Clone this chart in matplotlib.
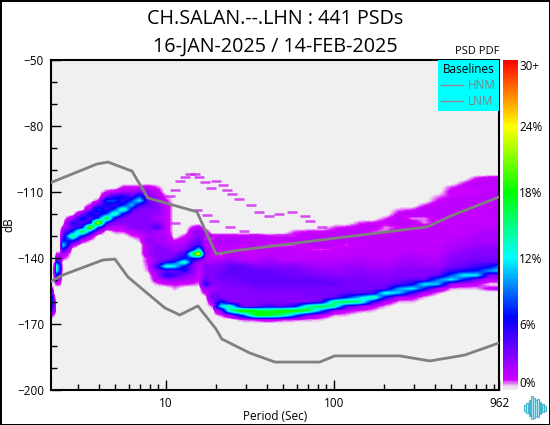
import numpy as np
import matplotlib
matplotlib.use("Agg")
import matplotlib.pyplot as plt
from matplotlib.colors import LinearSegmentedColormap, Normalize
from matplotlib.cm import ScalarMappable
from matplotlib.ticker import FixedLocator, FixedFormatter, NullFormatter

plt.rcParams["font.family"] = ["Open Sans", "DejaVu Sans"]

title_lines = "CH.SALAN.--.LHN : 441 PSDs\n16-JAN-2025 / 14-FEB-2025"

hnm_period = [2.04, 3.88, 4.52, 6.28, 7.81, 15.3, 19.9, 27.6, 104, 358, 511, 962]
hnm_db = [-105.9, -97.3, -96.4, -100.5, -112.7, -119, -138.2, -136.4, -130.9, -125.9, -120.5, -112.3]

lnm_period = [2.04, 2.44, 4.22, 4.97, 5.94, 7.71, 9.86, 12.1, 15.5, 19.9, 21.5, 31.6, 44.6, 82.5, 101, 247, 373, 603, 962]
lnm_db = [-150.9, -147.7, -140.9, -140.5, -148.6, -155.9, -162.7, -165.9, -161.8, -172.3, -176.8, -183.2, -187.3, -187.3, -184.5, -184.5, -186.8, -184.1, -178.6]

# rare PSDs, seen as short dashes above the main body
rare_period = [10.6, 11.3, 12.1, 13.0, 13.9, 14.9, 15.8, 17.0, 18.5, 20.0, 21.8, 23.0, 24.7, 27.3, 31.9, 36.0, 41.0, 47.0, 56.0, 67.0, 72.0, 85.0,
               15.3, 17.5, 19.3, 24.0, 29.0, 47.0, 55.0, 11.4, 18.0]
rare_db = [-112, -109, -105, -103, -102, -102, -103, -105.5, -108, -105, -107, -109, -111, -113, -116, -119, -121, -120, -119, -121, -123, -126,
           -118, -120.5, -123, -126, -127.7, -129.5, -129.5, -124, -131]

# PDF table: one list per period column, first value at col_top dB, then every 2 dB down (percent)
col_period = [2.07, 2.13, 2.19, 2.24, 2.34, 2.44, 2.79, 3.16, 3.53, 3.99, 4.46, 4.97, 5.55, 6.28, 7.0, 7.81, 8.84,
              10, 11.3, 13, 14.5, 15.7, 17.1, 18.8, 21.5, 24, 28.7, 34.3, 41, 49, 58.6, 70, 83.8, 100, 119, 143, 171,
              204, 244, 291, 348, 416, 497, 594, 710, 849, 962]
col_top = [-154, -154, -142, -138, -138, -126, -122, -120, -116, -114, -110, -110, -108, -108, -108, -108, -108,
           -112, -132, -130, -126, -126, -128, -130, -130, -130, -130, -130, -130, -130, -128, -128, -128, -126, -126, -124, -124,
           -122, -118, -118, -116, -112, -108, -106, -104, -104, -104]
col_vals = [
    [1, 4, 8, 11, 8, 4, 1],
    [1, 3, 6, 8, 5, 3, 1],
    [1, 2, 3, 2, 1, 0.5, 0, 0, 1, 2, 3, 2, 0.5],
    [1, 3, 7, 14, 12, 6, 3, 1],
    [1, 3, 5, 8, 8, 5, 2, 1],
    [1, 3, 4, 7, 12, 6, 2, 1],
    [2, 6, 4, 8, 16, 7, 1.5],
    [3, 7, 4, 6, 18, 6, 1.5],
    [1, 3, 7, 4, 6, 22, 8, 2, 0.5],
    [1, 4, 8, 5, 8, 24, 7, 2],
    [1, 3, 8, 6, 5, 8, 18, 5, 2],
    [1.5, 5, 8, 5, 8, 15, 5, 3, 1.5, 0.8],
    [1, 2, 6, 5, 7, 15, 6, 3, 3, 1.5, 0.8],
    [1, 2, 4, 8, 11, 5, 3, 3, 3, 3, 1.5, 0.8],
    [1, 3, 8, 12, 5, 3, 3, 3, 3, 3, 2, 1, 0.6],
    [1.5, 2.5, 3, 4, 4, 3, 3, 3, 3, 3, 3, 2, 3, 2, 2, 2, 1, 1, 0.8, 0.6],
    [0.8, 1.5, 2, 2.5, 3, 3, 2.5, 2, 3, 5, 2, 2, 2, 3, 3, 3, 3, 3, 5, 3, 2, 1.5, 0.6],
    [0.6, 1, 1.5, 1.5, 1.5, 1.5, 1.5, 1.5, 1.5, 2, 2, 2, 3, 3, 3, 6, 13, 4, 6, 2.5, 1],
    [1, 2, 2, 3, 4, 8, 12, 4, 5, 2.5, 1, 0.6],
    [1, 1.5, 2, 3, 5, 7, 15, 6, 6, 3, 2, 1],
    [1, 2, 2, 3, 4, 6, 17, 7, 4, 3, 3, 2.5, 1.5, 0.8],
    [1.5, 3, 3, 4, 5, 12, 26, 6, 2, 1.5, 1.5, 1, 1, 0.6],
    [1.5, 1.5, 2, 1.5, 2, 3, 2, 2, 3, 3, 3, 4, 6, 2.5, 1.2],
    [1.5, 1.5, 1.5, 1.5, 1, 1.5, 2, 3, 3, 3, 3, 3, 2, 3, 4, 2, 0.8],
    [1.5, 2, 1.5, 1.5, 0.6, 1.5, 2.5, 3, 3.5, 4, 3.5, 3, 3, 3, 3, 7, 12, 3, 0.8],
    [1.5, 2, 1.5, 1.5, 1.5, 2, 3, 4, 4, 4, 3.5, 3.5, 3, 3, 3, 3, 14, 14, 2],
    [1.2, 1.5, 1.5, 0.8, 1.5, 1.5, 2.5, 4, 4, 4, 4, 3.5, 3, 3, 3, 3, 3, 20, 8, 0.8],
    [1.5, 1.5, 1.5, 1.5, 1.2, 1.5, 2, 3, 4, 4, 4, 4, 3.5, 3, 3, 3, 3.5, 18, 18, 1],
    [1, 1.5, 0.8, 1.5, 1.5, 2, 2.5, 3, 4, 4, 4, 4, 3.5, 3, 3, 3, 5, 17, 18, 1.5],
    [1, 1.5, 0.6, 1.5, 1.5, 1.5, 2, 3, 3.5, 4, 4, 4, 3.5, 3, 3, 3, 4, 19, 15, 1],
    [0.8, 1.2, 1.5, 0.8, 1.5, 1.5, 1.5, 2, 3, 3.5, 3.5, 4, 4, 3.5, 3, 3, 3, 6, 19, 9, 0.8],
    [1, 1.5, 1.5, 1.5, 1, 1.5, 1.5, 2, 2.5, 3, 3.5, 4, 4, 3.5, 3.5, 3, 3, 14, 17, 3, 0.6],
    [1, 1.5, 1.5, 1.5, 0.8, 1.5, 1.5, 2, 2, 3, 3, 4, 4, 3.5, 3.5, 3, 4.5, 17, 9, 1.5, 0.5],
    [0.8, 1.2, 1.5, 1.5, 1.5, 1, 1.5, 1.5, 2, 2, 2.5, 3, 3.5, 4, 3.5, 3.5, 4, 15, 15, 2, 0.6],
    [1, 1.5, 1.5, 1.5, 0.8, 1.5, 1.5, 1.5, 2, 2.5, 2.5, 3, 3.5, 3.5, 3.5, 4, 7, 17, 5, 1.2, 0.5],
    [0.8, 1.2, 1.5, 1.5, 1.5, 1.2, 1.5, 1.5, 2, 2, 2.5, 3, 3, 3.5, 3.5, 3.5, 4, 11, 15, 2.5, 0.8],
    [1, 1.5, 0.8, 1.5, 1.5, 1.5, 1.5, 1.5, 1.5, 2, 2, 2.5, 3, 3, 3.5, 3.5, 5, 15, 5, 1.2, 0.5],
    [0.8, 1.2, 0.6, 0.6, 1.5, 1.5, 1.5, 1.5, 1.5, 1.5, 2, 2, 2.5, 3, 3, 3.5, 4, 13, 6, 1.5, 0.5],
    [0.6, 1.2, 1.5, 1.5, 1, 1.5, 1.5, 1.5, 1.5, 1.5, 1.5, 2, 2, 2.5, 3, 3, 3.5, 4.5, 10, 11, 1.5, 0.5],
    [0.8, 1.5, 0.6, 1.5, 1.5, 1.5, 1.5, 1.5, 1.5, 1.5, 2, 2, 2.5, 2.5, 3, 3, 4, 6, 12, 5, 1.2, 0.5],
    [0.8, 1.5, 1.5, 0.6, 0.6, 1.5, 1.5, 1.5, 1.5, 1.5, 1.5, 1.5, 2, 2, 2.5, 3, 3, 4, 12, 7, 1.5, 0.5],
    [0.6, 1, 1.5, 1.5, 1.5, 1.5, 1.2, 1.5, 1.5, 1.5, 1.2, 1.5, 1.5, 1.5, 2, 2, 2.5, 3, 4, 9, 11, 2, 0.6],
    [0.8, 1.2, 1, 1.5, 1.5, 1.5, 1.5, 1.5, 1.2, 1.5, 1.2, 1.5, 1.5, 2, 2, 2.5, 3, 3, 3.5, 5, 8, 12, 2, 0.6],
    [0.8, 1.2, 1, 1.2, 1.5, 1.5, 1.5, 1.5, 1.5, 1.2, 1.5, 1.5, 1.5, 2, 2, 2.5, 3, 3, 3.5, 4, 6, 12, 7, 1.5, 0.5],
    [1, 1.5, 1.5, 1, 1.5, 1.5, 1.5, 1.5, 1, 1.5, 1.2, 1.5, 1.5, 2, 2, 2.5, 3, 3, 3.5, 4, 5, 7, 12, 3, 1.2, 0.5],
    [1.5, 1.5, 1.2, 1.5, 1.5, 1.5, 1.2, 1.5, 1.5, 1.2, 1.5, 1.5, 2, 2, 2, 2.5, 3, 3, 3.5, 4, 6, 10, 3, 1.5, 0.3, 1.2],
    [1.5, 1.5, 1.2, 1.5, 1.5, 1.5, 1.2, 1.5, 1.5, 1.2, 1.5, 1.5, 2, 2, 2, 2.5, 3, 3, 3.5, 4, 9, 11, 3, 1.5, 0.3, 1.2],
]

logo_heights = [6, 10, 15, 23, 20, 16, 18, 12, 8, 5]

# table -> grid
db_rows = np.arange(-176, -98, 2)
pdf = np.zeros((len(db_rows), len(col_period)))
for j, vals in enumerate(col_vals):
    for k, v in enumerate(vals):
        i = np.where(db_rows == col_top[j] - 2 * k)[0][0]
        pdf[i, j] = v

# smooth the cells for drawing (the original image is resampled the same way)
log_p = np.log10(col_period)
fine_x = np.linspace(log_p[0], log_p[-1], 460)
fine_y = np.linspace(db_rows[0], db_rows[-1], 170)
tmp = np.array([np.interp(fine_x, log_p, row) for row in pdf])
fine = np.array([np.interp(fine_y, db_rows, tmp[:, j]) for j in range(tmp.shape[1])]).T
fine = np.ma.masked_less(fine, 0.3)

cmap = LinearSegmentedColormap.from_list("psdpdf", [
    (0.0, "#f0f0f0"), (0.012, "#eec8f4"), (0.03, "#d000ff"), (0.12, "#7000ff"), (0.22, "#0000ff"),
    (0.40, "#00ffff"), (0.60, "#00ff00"), (0.80, "#ffff00"), (1.0, "#ff0000")])
norm = Normalize(0, 30)

fig = plt.figure(figsize=(5.5, 4.25), dpi=100, facecolor="white", edgecolor="black", linewidth=2)
ax = fig.add_axes([51 / 550, 35 / 425, 448 / 550, 330 / 425])
ax.set_facecolor("#f0f0f0")

ax.pcolormesh(10 ** fine_x, fine_y, fine, cmap=cmap, norm=norm, shading="auto", rasterized=True)
ax.scatter(rare_period, rare_db, marker="_", s=55, linewidths=1.8, color="#d020f4", alpha=0.8, zorder=2)

ax.plot(hnm_period, hnm_db, color="#808080", lw=2, label="HNM", zorder=3)
ax.plot(lnm_period, lnm_db, color="#808080", lw=2, label="LNM", zorder=3)

ax.set_xscale("log")
ax.set_xlim(2.07, 962)
ax.set_ylim(-200, -50)
ax.xaxis.set_major_locator(FixedLocator([10, 100, 962]))
ax.xaxis.set_major_formatter(FixedFormatter(["10", "100", "962"]))
ax.xaxis.set_minor_locator(FixedLocator([3, 4, 5, 6, 7, 8, 9, 20, 30, 40, 50, 60, 70, 80, 90, 200, 300, 400, 500, 600, 700, 800, 900]))
ax.xaxis.set_minor_formatter(NullFormatter())
ax.set_yticks(np.arange(-200, -49, 30))
ax.set_yticks(np.arange(-200, -49, 10), minor=True)
ax.tick_params(which="major", direction="in", length=7, width=1, labelsize=8.5, pad=5, colors="black")
ax.tick_params(which="minor", direction="in", length=4, width=1)
for s in ax.spines.values():
    s.set_linewidth(1.5)
ax.set_xlabel("Period (Sec)", fontsize=8.5, labelpad=0)
ax.set_ylabel("dB", fontsize=8.5, labelpad=1)

fig.text(275 / 550, 1 - 32.5 / 425, title_lines, ha="center", va="center", fontsize=14.2, linespacing=1.5)

leg = ax.legend(loc="upper right", title="Baselines", fontsize=8.5, title_fontsize=8.5, frameon=True, fancybox=False,
                facecolor="#00ffff", edgecolor="#00ffff", framealpha=1, borderaxespad=0, labelcolor="#808080",
                handlelength=1.9, handletextpad=0.4, labelspacing=0.25, borderpad=0.25)
leg.get_frame().set_linewidth(0)
for h in leg.get_lines():
    h.set_color("#a08088")
    h.set_linewidth(1)

fig.text(477 / 550, 1 - 51 / 425, "PSD PDF", ha="center", va="center", fontsize=8)

cax = fig.add_axes([503 / 550, 35 / 425, 15 / 550, 330 / 425])
cb = fig.colorbar(ScalarMappable(norm=norm, cmap=cmap), cax=cax)
cb.outline.set_visible(False)
cb.set_ticks([0.7, 6, 12, 18, 24, 29.5])
cb.set_ticklabels(["0%", "6%", "12%", "18%", "24%", "30+"])
cax.tick_params(length=0, labelsize=8.5, pad=1)

# small waveform logo in the corner
lax = fig.add_axes([523 / 550, 5 / 425, 24 / 550, 25 / 425])
lax.axis("off")
lax.bar(range(len(logo_heights)), logo_heights, bottom=[-h / 2 for h in logo_heights], width=0.85,
        color="#bfeef6", edgecolor="#45b5cf", linewidth=0.8)

fig.savefig("out.png", dpi=100, facecolor="white", edgecolor="black")
